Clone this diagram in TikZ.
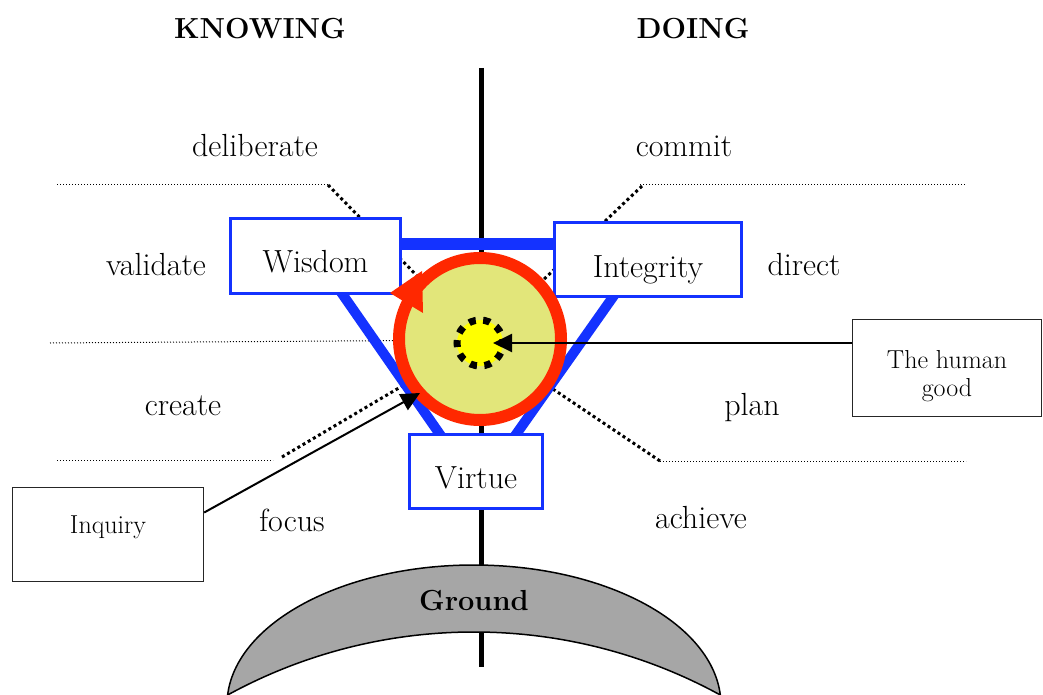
\documentclass[tikz,border=0pt]{standalone}
\usetikzlibrary{arrows.meta}
\definecolor{myblue}{RGB}{20,50,255}
\definecolor{ringred}{RGB}{255,40,0}
\definecolor{discfill}{RGB}{226,230,122}
\definecolor{dotyellow}{RGB}{255,255,0}
\definecolor{groundgray}{RGB}{166,166,166}
\begin{document}
\begin{tikzpicture}[x=1pt,y=-1pt,
  word/.style={anchor=base,inner sep=0pt,font=\fontsize{32}{36}\selectfont},
  head/.style={anchor=base,inner sep=0pt,font=\fontsize{29}{34}\selectfont\bfseries},
  bluebox/.style={draw=myblue,line width=3pt,fill=white,inner sep=0pt,rectangle,font=\fontsize{32}{36}\selectfont,text depth=0pt},
  callout/.style={draw=black!85,line width=1.4pt,fill=white,inner sep=0pt,rectangle},
  small/.style={inner sep=0pt,font=\fontsize{26}{28}\selectfont,align=center},
  thindot/.style={line width=1pt,dash pattern=on 1pt off 2pt},
  thickdot/.style={line width=3pt,dash pattern=on 3pt off 3pt},
  pointer/.style={line width=2pt,-{Triangle[length=19pt,width=18pt]}},
  bluebar/.style={myblue,line width=10pt},
]
\useasboundingbox (0,0) rectangle (1043,695);
\clip (0,0) rectangle (1043,695);
\coordinate (c) at (480,340);

% dotted guide lines
\draw[thindot] (57,185) -- (330,185);
\draw[thindot] (640,185) -- (966,185);
\draw[thindot] (50,343) -- (c);
\draw[thindot] (57,460) -- (273,460);
\draw[thindot] (660,461) -- (966,461);
\draw[thickdot] (328,185) -- (c);
\draw[thickdot] (642,186) -- (c);
\draw[thickdot] (282,457) -- (c);
\draw[thickdot] (660,461) -- (c);

% axis
\coordinate (axtop) at (481.5,68);
\coordinate (axbot) at (481.5,667);
\draw[line width=4.5pt] (axtop) -- (axbot);

% ground
\filldraw[fill=groundgray,draw=black,line width=1.5pt]
  (227.6,695) arc[start angle=184.1,end angle=355.9,x radius=247,y radius=140]
  arc[start angle=-61.3,end angle=-118.7,radius=513] -- cycle;
\node[head] (ground) at (474,610) {Ground};

% triangle
\coordinate (tl) at (380,244);
\coordinate (tr) at (580,244);
\coordinate (l1) at (325.6,270);
\coordinate (l2) at (464.7,470);
\coordinate (r1) at (632,270);
\coordinate (r2) at (490.9,470);
\draw[bluebar,line width=11.5pt] (tl) -- (tr);
\draw[bluebar] (l1) -- (l2);
\draw[bluebar] (r1) -- (r2);

% boxes
\node[bluebox,minimum width=170pt,minimum height=75pt,text height=32pt] (wisdom) at (315.5,256) {Wisdom};
\node[bluebox,minimum width=187pt,minimum height=74pt,text height=35pt] (integrity) at (648,259.5) {Integrity};
\node[bluebox,minimum width=133pt,minimum height=74pt,text height=33pt] (virtue) at (476,471.5) {Virtue};

% disc
\node[circle,fill=discfill,draw=ringred,line width=12pt,minimum size=162pt,inner sep=0pt] (disc) at (480,339) {};
\fill[ringred] (390,293) -- (422,271) -- (423,313) -- cycle;
\node[circle,fill=dotyellow,draw=black,line width=7pt,dash pattern=on 7pt off 7.45pt,dash phase=3pt,minimum size=46pt,inner sep=0pt] (dot) at (480,343) {};

% callouts
\node[callout,minimum width=189pt,minimum height=97pt] (goodbox) at (947,368) {};
\node[small] (goodtext) at (947,376) {The human\\good};
\node[callout,minimum width=191pt,minimum height=94pt,font=\fontsize{26}{28}\selectfont,text height=0pt,text depth=3pt] (inquiry) at (108,534.5) {Inquiry};
\coordinate (goodtip) at (493,343);
\coordinate (inqtip) at (420,393);
\draw[pointer] (goodbox.west |- goodtip) -- (goodtip);
\draw[pointer] ([yshift=22pt]inquiry.east) -- (inqtip);

% labels
\node[head] (knowing) at (260,39) {KNOWING};
\node[head] (doing) at (693,39) {DOING};
\node[word] (deliberate) at (255,157) {deliberate};
\node[word] (commit) at (684,157) {commit};
\node[word] (validate) at (156,275) {validate};
\node[word] (direct) at (804,275) {direct};
\node[word] (create) at (183,415) {create};
\node[word] (plan) at (752,415) {plan};
\node[word] (focus) at (292,531) {focus};
\node[word] (achieve) at (701,528) {achieve};
\end{tikzpicture}
\end{document}
